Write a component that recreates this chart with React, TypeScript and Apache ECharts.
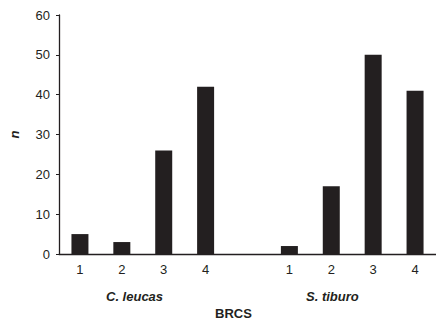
import React, { useEffect, useRef } from "react";
import * as echarts from "echarts";

const brcs = ["1", "2", "3", "4"];
const leucas = [5, 3, 26, 42];
const tiburo = [2, 17, 50, 41];
const groupNames = ["C. leucas", "S. tiburo"];
const yTicks = { min: 0, max: 60, interval: 10 };

export default function App() {
  const ref = useRef<HTMLDivElement>(null);
  useEffect(() => {
    if (!ref.current) return;
    const chart = echarts.init(ref.current, null, { renderer: "svg" });
    const categories = [...brcs, "", ...brcs];
    const values: (number | null)[] = [...leucas, null, ...tiburo];
    const font = "'Liberation Sans', Arial, sans-serif";
    chart.setOption({
      animation: false,
      grid: { left: 53, right: 0, top: 15, bottom: 68, containLabel: false },
      xAxis: {
        type: "category",
        data: categories,
        boundaryGap: true,
        axisLine: { lineStyle: { color: "#231f20", width: 1.3 } },
        axisTick: { show: false },
        axisLabel: { color: "#231f20", fontSize: 13, fontFamily: font, margin: 9 },
      },
      yAxis: {
        type: "value",
        min: yTicks.min,
        max: yTicks.max,
        interval: yTicks.interval,
        splitLine: { show: false },
        axisLine: { show: true, lineStyle: { color: "#231f20", width: 1.3 } },
        axisTick: { show: true, length: 3, lineStyle: { color: "#231f20" } },
        axisLabel: { color: "#231f20", fontSize: 13, fontFamily: font, margin: 9 },
        name: "n",
        nameLocation: "middle",
        nameGap: 38,
        nameTextStyle: { fontStyle: "italic", fontWeight: "bold", fontSize: 13, color: "#231f20", fontFamily: font },
      },
      series: [
        {
          type: "bar",
          data: values,
          barWidth: 17,
          itemStyle: { color: "#231f20" },
        },
      ],
      graphic: [
        {
          type: "text",
          left: 106,
          top: 290,
          style: { text: groupNames[0], font: `italic bold 13px ${font}`, fill: "#231f20" },
        },
        {
          type: "text",
          left: 306,
          top: 290,
          style: { text: groupNames[1], font: `italic bold 13px ${font}`, fill: "#231f20" },
        },
        {
          type: "text",
          left: 215,
          top: 307,
          style: { text: "BRCS", font: `bold 13px ${font}`, fill: "#231f20" },
        },
      ],
    });
    return () => chart.dispose();
  }, []);
  return <div ref={ref} style={{ width: 436, height: 322, position: "absolute", left: 0, top: 0 }} />;
}
